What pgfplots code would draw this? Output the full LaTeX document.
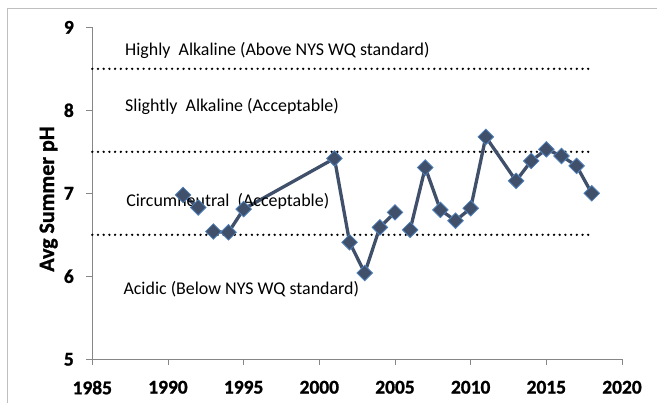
\documentclass[border=0pt]{standalone}
\usepackage{pgfplots}
\pgfplotsset{compat=1.18}
\usepackage{fontspec}
\setmainfont{Carlito}
\newfontfamily\tickfont{Carlito}[BoldFeatures={FakeBold=1.2}]
\definecolor{lineC}{RGB}{64,80,106}
\definecolor{edgeC}{RGB}{79,129,189}
\definecolor{axC}{RGB}{134,134,134}
\definecolor{frameC}{RGB}{191,191,191}
\begin{document}
\begin{tikzpicture}[x=1bp,y=1bp]
\path[use as bounding box, clip] (0,0) rectangle (657,402);
\draw[frameC, line width=1.5bp] (7.3,393.7) -- (7.3,-20) (7.3,393.7) -- (700,393.7);
\begin{axis}[
  scale only axis,
  width=529.7bp, height=332bp,
  at={(92.3bp,42.7bp)}, anchor=south west,
  xmin=1985, xmax=2020, ymin=5, ymax=9,
  xtick={1985,1990,...,2020}, ytick={5,6,7,8,9},
  xticklabels={1985,1990,1995,2000,2005,2010,2015,2020},
  yticklabels={5,6,7,8,9},
  axis x line*=bottom, axis y line*=left,
  axis line style={axC, line width=0.8bp, -},
  tick style={axC, line width=0.8bp},
  tick align=outside, major tick length=6bp,
  xticklabel style={font=\fontsize{19.5}{19.5}\selectfont\tickfont\bfseries, yshift=-12bp},
  yticklabel style={font=\fontsize{19.5}{19.5}\selectfont\tickfont\bfseries, xshift=-9bp},
  clip=false,
]
\addplot[black, line width=2.6bp, dash pattern=on 0pt off 5.7bp, line cap=round] coordinates {(1985,8.5) (2018,8.5)};
\addplot[black, line width=2.6bp, dash pattern=on 0pt off 5.7bp, line cap=round] coordinates {(1985,7.5) (2018,7.5)};
\addplot[black, line width=2.6bp, dash pattern=on 0pt off 5.7bp, line cap=round] coordinates {(1985,6.5) (2018,6.5)};
\addplot[lineC, line width=3.3bp, mark=square*, mark size=5.5bp,
  mark options={rotate=45, fill=lineC, draw=edgeC, line width=0.8bp}] coordinates {
  (1991,6.98) (1992,6.83)};
\addplot[lineC, line width=3.3bp, mark=square*, mark size=5.5bp,
  mark options={rotate=45, fill=lineC, draw=edgeC, line width=0.8bp}] coordinates {
  (1993,6.54) (1994,6.53) (1995,6.81) (2001,7.42) (2002,6.41) (2003,6.04) (2004,6.59) (2005,6.77)};
\addplot[lineC, line width=3.3bp, mark=square*, mark size=5.5bp,
  mark options={rotate=45, fill=lineC, draw=edgeC, line width=0.8bp}] coordinates {
  (2006,6.56) (2007,7.31) (2008,6.80) (2009,6.67) (2010,6.82) (2011,7.68) (2013,7.15) (2014,7.39) (2015,7.53) (2016,7.45) (2017,7.33) (2018,7.00)};
\node[anchor=base west, font=\fontsize{18}{18}\selectfont, inner sep=0pt] at (axis cs:1987.16,8.666) {Highly\hspace{0.45em}Alkaline (Above NYS WQ standard)};
\node[anchor=base west, font=\fontsize{18}{18}\selectfont, inner sep=0pt] at (axis cs:1987.16,7.984) {Slightly\hspace{0.45em}Alkaline (Acceptable)};
\node[anchor=base west, font=\fontsize{18}{18}\selectfont, inner sep=0pt] at (axis cs:1987.23,6.84) {Circumneutral\hspace{0.45em}(Acceptable)};
\node[anchor=base west, font=\fontsize{18}{18}\selectfont, inner sep=0pt] at (axis cs:1987.05,5.775) {Acidic (Below NYS WQ standard)};
\end{axis}
\node[rotate=90, anchor=base, inner sep=0pt, font=\fontsize{22}{22}\selectfont\tickfont\bfseries] at (54,203) {Avg Summer pH};
\end{tikzpicture}
\end{document}
